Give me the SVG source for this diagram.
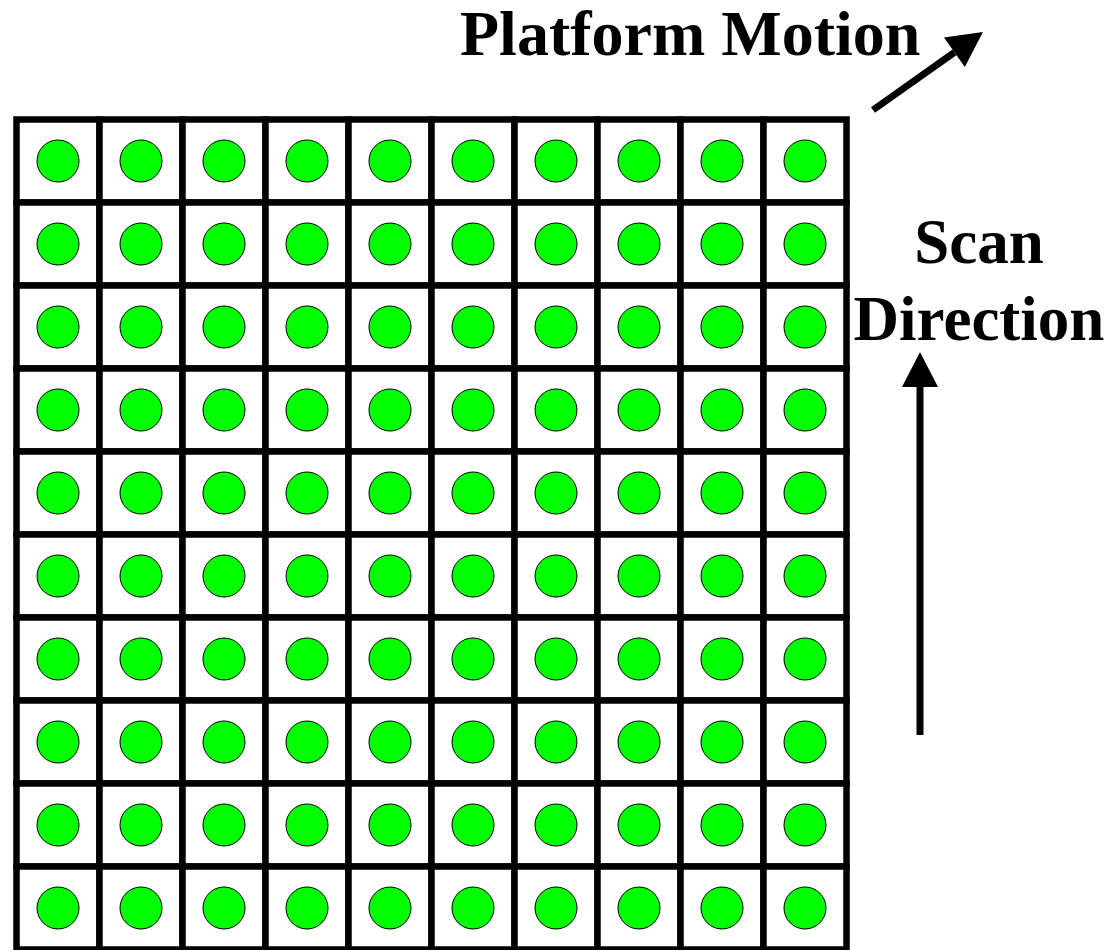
<svg xmlns="http://www.w3.org/2000/svg" xmlns:xlink="http://www.w3.org/1999/xlink" width="1108" height="950" viewBox="0 0 1108 950">
  <style>
    .label { font-family: "Liberation Serif", "Times New Roman", serif; font-weight: bold; fill: #000; }
    .frame { fill: #fff; stroke: #000; stroke-width: 6.5; }
    .dot { fill: #00ff00; stroke: #000; stroke-width: 1; }
    .arrow { stroke: #000; stroke-width: 7; fill: none; marker-end: url(#head); }
  </style>
  <defs>
    <marker id="head" markerUnits="userSpaceOnUse" markerWidth="36" markerHeight="37" refX="0" refY="18" orient="auto" overflow="visible">
      <path d="M0,0 L35,18 L0,36 Z" fill="#000"/>
    </marker>
    <g id="cell">
      <rect class="frame" x="0" y="0" width="83" height="83"/>
      <circle class="dot" cx="41.5" cy="41.5" r="21"/>
    </g>
  </defs>
  <rect width="1108" height="950" fill="#fff"/>

  <!-- detector array: 10 x 10 cells, 83 px pitch -->
  <g id="array" transform="translate(16.5,119.5)">
    <g id="row0">
      <use id="c0-0" xlink:href="#cell" x="0" y="0"/><use id="c0-1" xlink:href="#cell" x="83" y="0"/><use id="c0-2" xlink:href="#cell" x="166" y="0"/><use id="c0-3" xlink:href="#cell" x="249" y="0"/><use id="c0-4" xlink:href="#cell" x="332" y="0"/><use id="c0-5" xlink:href="#cell" x="415" y="0"/><use id="c0-6" xlink:href="#cell" x="498" y="0"/><use id="c0-7" xlink:href="#cell" x="581" y="0"/><use id="c0-8" xlink:href="#cell" x="664" y="0"/><use id="c0-9" xlink:href="#cell" x="747" y="0"/>
    </g>
    <g id="row1">
      <use id="c1-0" xlink:href="#cell" x="0" y="83"/><use id="c1-1" xlink:href="#cell" x="83" y="83"/><use id="c1-2" xlink:href="#cell" x="166" y="83"/><use id="c1-3" xlink:href="#cell" x="249" y="83"/><use id="c1-4" xlink:href="#cell" x="332" y="83"/><use id="c1-5" xlink:href="#cell" x="415" y="83"/><use id="c1-6" xlink:href="#cell" x="498" y="83"/><use id="c1-7" xlink:href="#cell" x="581" y="83"/><use id="c1-8" xlink:href="#cell" x="664" y="83"/><use id="c1-9" xlink:href="#cell" x="747" y="83"/>
    </g>
    <g id="row2">
      <use id="c2-0" xlink:href="#cell" x="0" y="166"/><use id="c2-1" xlink:href="#cell" x="83" y="166"/><use id="c2-2" xlink:href="#cell" x="166" y="166"/><use id="c2-3" xlink:href="#cell" x="249" y="166"/><use id="c2-4" xlink:href="#cell" x="332" y="166"/><use id="c2-5" xlink:href="#cell" x="415" y="166"/><use id="c2-6" xlink:href="#cell" x="498" y="166"/><use id="c2-7" xlink:href="#cell" x="581" y="166"/><use id="c2-8" xlink:href="#cell" x="664" y="166"/><use id="c2-9" xlink:href="#cell" x="747" y="166"/>
    </g>
    <g id="row3">
      <use id="c3-0" xlink:href="#cell" x="0" y="249"/><use id="c3-1" xlink:href="#cell" x="83" y="249"/><use id="c3-2" xlink:href="#cell" x="166" y="249"/><use id="c3-3" xlink:href="#cell" x="249" y="249"/><use id="c3-4" xlink:href="#cell" x="332" y="249"/><use id="c3-5" xlink:href="#cell" x="415" y="249"/><use id="c3-6" xlink:href="#cell" x="498" y="249"/><use id="c3-7" xlink:href="#cell" x="581" y="249"/><use id="c3-8" xlink:href="#cell" x="664" y="249"/><use id="c3-9" xlink:href="#cell" x="747" y="249"/>
    </g>
    <g id="row4">
      <use id="c4-0" xlink:href="#cell" x="0" y="332"/><use id="c4-1" xlink:href="#cell" x="83" y="332"/><use id="c4-2" xlink:href="#cell" x="166" y="332"/><use id="c4-3" xlink:href="#cell" x="249" y="332"/><use id="c4-4" xlink:href="#cell" x="332" y="332"/><use id="c4-5" xlink:href="#cell" x="415" y="332"/><use id="c4-6" xlink:href="#cell" x="498" y="332"/><use id="c4-7" xlink:href="#cell" x="581" y="332"/><use id="c4-8" xlink:href="#cell" x="664" y="332"/><use id="c4-9" xlink:href="#cell" x="747" y="332"/>
    </g>
    <g id="row5">
      <use id="c5-0" xlink:href="#cell" x="0" y="415"/><use id="c5-1" xlink:href="#cell" x="83" y="415"/><use id="c5-2" xlink:href="#cell" x="166" y="415"/><use id="c5-3" xlink:href="#cell" x="249" y="415"/><use id="c5-4" xlink:href="#cell" x="332" y="415"/><use id="c5-5" xlink:href="#cell" x="415" y="415"/><use id="c5-6" xlink:href="#cell" x="498" y="415"/><use id="c5-7" xlink:href="#cell" x="581" y="415"/><use id="c5-8" xlink:href="#cell" x="664" y="415"/><use id="c5-9" xlink:href="#cell" x="747" y="415"/>
    </g>
    <g id="row6">
      <use id="c6-0" xlink:href="#cell" x="0" y="498"/><use id="c6-1" xlink:href="#cell" x="83" y="498"/><use id="c6-2" xlink:href="#cell" x="166" y="498"/><use id="c6-3" xlink:href="#cell" x="249" y="498"/><use id="c6-4" xlink:href="#cell" x="332" y="498"/><use id="c6-5" xlink:href="#cell" x="415" y="498"/><use id="c6-6" xlink:href="#cell" x="498" y="498"/><use id="c6-7" xlink:href="#cell" x="581" y="498"/><use id="c6-8" xlink:href="#cell" x="664" y="498"/><use id="c6-9" xlink:href="#cell" x="747" y="498"/>
    </g>
    <g id="row7">
      <use id="c7-0" xlink:href="#cell" x="0" y="581"/><use id="c7-1" xlink:href="#cell" x="83" y="581"/><use id="c7-2" xlink:href="#cell" x="166" y="581"/><use id="c7-3" xlink:href="#cell" x="249" y="581"/><use id="c7-4" xlink:href="#cell" x="332" y="581"/><use id="c7-5" xlink:href="#cell" x="415" y="581"/><use id="c7-6" xlink:href="#cell" x="498" y="581"/><use id="c7-7" xlink:href="#cell" x="581" y="581"/><use id="c7-8" xlink:href="#cell" x="664" y="581"/><use id="c7-9" xlink:href="#cell" x="747" y="581"/>
    </g>
    <g id="row8">
      <use id="c8-0" xlink:href="#cell" x="0" y="664"/><use id="c8-1" xlink:href="#cell" x="83" y="664"/><use id="c8-2" xlink:href="#cell" x="166" y="664"/><use id="c8-3" xlink:href="#cell" x="249" y="664"/><use id="c8-4" xlink:href="#cell" x="332" y="664"/><use id="c8-5" xlink:href="#cell" x="415" y="664"/><use id="c8-6" xlink:href="#cell" x="498" y="664"/><use id="c8-7" xlink:href="#cell" x="581" y="664"/><use id="c8-8" xlink:href="#cell" x="664" y="664"/><use id="c8-9" xlink:href="#cell" x="747" y="664"/>
    </g>
    <g id="row9">
      <use id="c9-0" xlink:href="#cell" x="0" y="747"/><use id="c9-1" xlink:href="#cell" x="83" y="747"/><use id="c9-2" xlink:href="#cell" x="166" y="747"/><use id="c9-3" xlink:href="#cell" x="249" y="747"/><use id="c9-4" xlink:href="#cell" x="332" y="747"/><use id="c9-5" xlink:href="#cell" x="415" y="747"/><use id="c9-6" xlink:href="#cell" x="498" y="747"/><use id="c9-7" xlink:href="#cell" x="581" y="747"/><use id="c9-8" xlink:href="#cell" x="664" y="747"/><use id="c9-9" xlink:href="#cell" x="747" y="747"/>
    </g>
  </g>

  <!-- direction arrows -->
  <g id="connectors">
    <line id="platform-arrow" class="arrow" x1="873" y1="110" x2="954.4" y2="52.3"/>
    <line id="scan-arrow" class="arrow" x1="920" y1="735" x2="920" y2="387"/>
  </g>

  <!-- labels -->
  <g id="platform-label">
    <text class="label" x="460" y="55" font-size="64">Platform Motion</text>
  </g>
  <g id="scan-label">
    <text class="label" x="979" y="263" font-size="63" text-anchor="middle">Scan</text>
    <text class="label" x="979" y="340" font-size="63" text-anchor="middle">Direction</text>
  </g>
</svg>
